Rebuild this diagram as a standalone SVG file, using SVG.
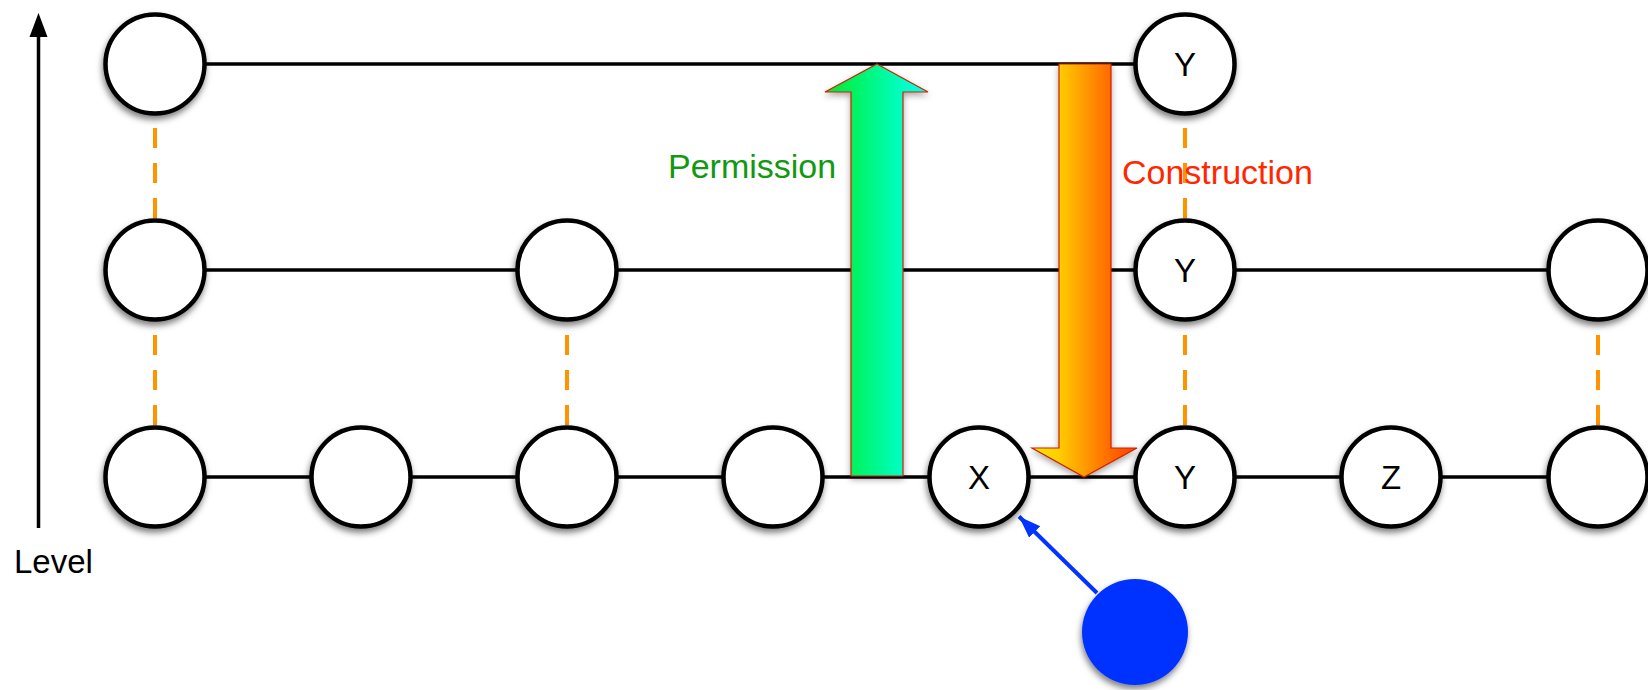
<svg xmlns="http://www.w3.org/2000/svg" width="1648" height="690" viewBox="0 0 1648 690">
<style>
.node circle{fill:#fff;stroke:#000;stroke-width:4.5;filter:url(#sh)}
.lbl{font-family:"Liberation Sans",Arial,sans-serif;font-size:33px;fill:#000;text-anchor:middle}
.edge{stroke:#000;stroke-width:3.5;fill:none}
.dash{stroke:#FF9300;stroke-width:4;stroke-dasharray:20 15;fill:none}
.big{stroke:#CC2200;stroke-width:1.2;filter:url(#sh2)}
</style>
<defs>
<filter id="sh" x="-30%" y="-30%" width="160%" height="170%">
<feDropShadow dx="-1" dy="4" stdDeviation="3" flood-color="#000" flood-opacity="0.5"/>
</filter>
<filter id="sh2" x="-30%" y="-10%" width="160%" height="120%">
<feDropShadow dx="0" dy="3" stdDeviation="3" flood-color="#000" flood-opacity="0.35"/>
</filter>
<linearGradient id="gg" gradientUnits="userSpaceOnUse" x1="825" y1="0" x2="928" y2="0">
<stop offset="0" stop-color="#00E830"/>
<stop offset="0.25" stop-color="#00F25A"/>
<stop offset="0.75" stop-color="#00FFC4"/>
<stop offset="1" stop-color="#00FFE6"/>
</linearGradient>
<linearGradient id="og" gradientUnits="userSpaceOnUse" x1="1032" y1="0" x2="1137" y2="0">
<stop offset="0" stop-color="#FFE800"/>
<stop offset="0.26" stop-color="#FFCC00"/>
<stop offset="0.76" stop-color="#FF6600"/>
<stop offset="1" stop-color="#FF4000"/>
</linearGradient>
<marker id="ba" markerUnits="userSpaceOnUse" markerWidth="26" markerHeight="20" refX="22" refY="8" orient="auto">
<path d="M0,0 L22,8 L0,16 Z" fill="#0433FF"/>
</marker>
</defs>

<g id="axis">
<line x1="38.5" y1="528" x2="38.5" y2="34" stroke="#000" stroke-width="3.5"/>
<path d="M38.5,13 L29.5,37 L47.5,37 Z" fill="#000"/>
<text x="14" y="573" font-family="Liberation Sans,Arial,sans-serif" font-size="33" fill="#000">Level</text>
</g>

<g id="connectors">
<line class="edge" x1="155" y1="64" x2="1185" y2="64"/>
<line class="edge" x1="155" y1="270" x2="1598" y2="270"/>
<line class="edge" x1="155" y1="477" x2="1598" y2="477"/>
<line class="dash" x1="155" y1="128" x2="155" y2="218"/>
<line class="dash" x1="155" y1="335" x2="155" y2="425"/>
<line class="dash" x1="567" y1="335" x2="567" y2="425"/>
<line class="dash" x1="1185" y1="128" x2="1185" y2="218"/>
<line class="dash" x1="1185" y1="335" x2="1185" y2="425"/>
<line class="dash" x1="1598" y1="335" x2="1598" y2="425"/>
<line x1="1097" y1="593" x2="1019" y2="516.5" stroke="#0433FF" stroke-width="4" marker-end="url(#ba)"/>
</g>

<g id="permission">
<path class="big" d="M877,64 L928,92 L903,92 L903,476 L851,476 L851,92 L825,92 Z" fill="url(#gg)"/>
<text x="668" y="178" font-family="Liberation Sans,Arial,sans-serif" font-size="34" fill="#119911">Permission</text>
</g>
<g id="construction">
<path class="big" d="M1059,64 L1111,64 L1111,448 L1137,448 L1084,477 L1032,448 L1059,448 Z" fill="url(#og)"/>
<text x="1122" y="184" font-family="Liberation Sans,Arial,sans-serif" font-size="34" fill="#FF2600">Construction</text>
</g>

<g id="n-top-1" class="node"><circle cx="155" cy="64" r="49.5"/></g>
<g id="n-top-y" class="node"><circle cx="1185" cy="64" r="49.5"/><text class="lbl" x="1185" y="76">Y</text></g>

<g id="n-mid-1" class="node"><circle cx="155" cy="270" r="49.5"/></g>
<g id="n-mid-3" class="node"><circle cx="567" cy="270" r="49.5"/></g>
<g id="n-mid-y" class="node"><circle cx="1185" cy="270" r="49.5"/><text class="lbl" x="1185" y="282">Y</text></g>
<g id="n-mid-8" class="node"><circle cx="1598" cy="270" r="49.5"/></g>

<g id="n-bot-1" class="node"><circle cx="155" cy="477" r="49.5"/></g>
<g id="n-bot-2" class="node"><circle cx="361" cy="477" r="49.5"/></g>
<g id="n-bot-3" class="node"><circle cx="567" cy="477" r="49.5"/></g>
<g id="n-bot-4" class="node"><circle cx="773" cy="477" r="49.5"/></g>
<g id="n-bot-x" class="node"><circle cx="979" cy="477" r="49.5"/><text class="lbl" x="979" y="489">X</text></g>
<g id="n-bot-y" class="node"><circle cx="1185" cy="477" r="49.5"/><text class="lbl" x="1185" y="489">Y</text></g>
<g id="n-bot-z" class="node"><circle cx="1391" cy="477" r="49.5"/><text class="lbl" x="1391" y="489">Z</text></g>
<g id="n-bot-8" class="node"><circle cx="1598" cy="477" r="49.5"/></g>

<g id="n-blue"><circle cx="1135" cy="632" r="53" fill="#0433FF" filter="url(#sh)"/></g>
</svg>
